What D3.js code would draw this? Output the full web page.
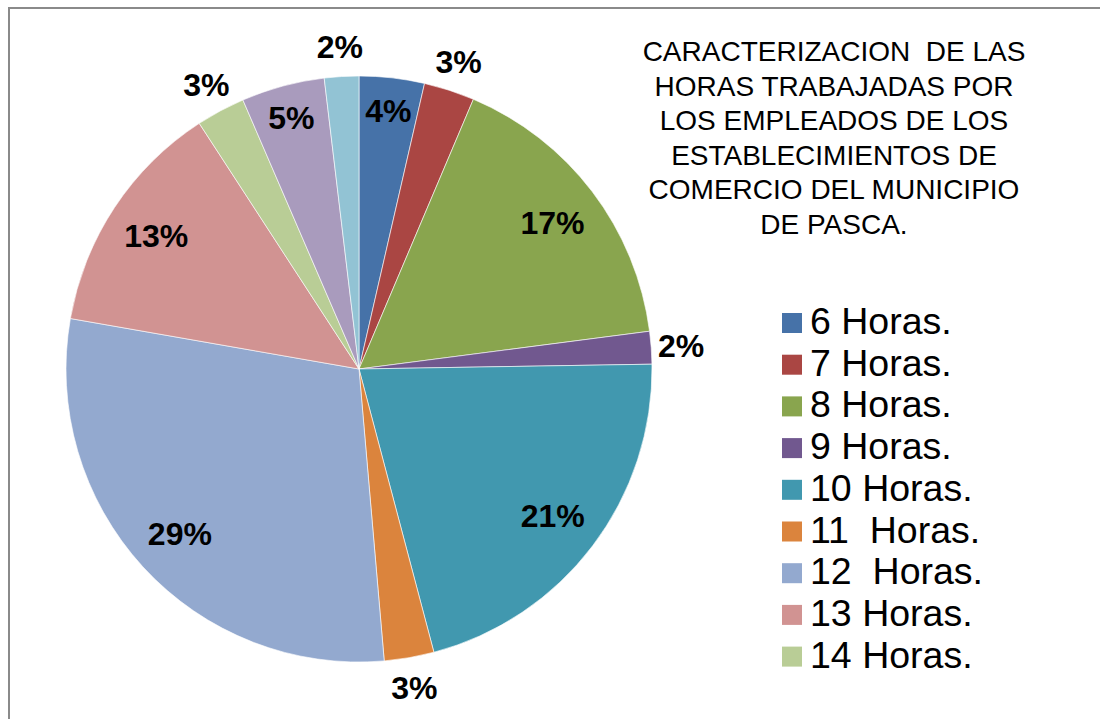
<!DOCTYPE html>
<html>
<head>
<meta charset="utf-8">
<script src="https://cdn.jsdelivr.net/npm/d3@7"></script>
<style>
  html, body { margin: 0; padding: 0; background: #fff; }
  svg { display: block; font-family: "Liberation Sans", Arial, sans-serif; }
</style>
</head>
<body>
<div id="my_dataviz"></div>
<script>
// ---- data (share of employees, clockwise from 12 o'clock)
var categories = ["6 Horas.", "7 Horas.", "8 Horas.", "9 Horas.", "10 Horas.", "11  Horas.",
                  "12  Horas.", "13 Horas.", "14 Horas.", "15 Horas.", "16 Horas."];
var values = [3.6, 2.8, 16.6, 1.8, 21.2, 2.75, 29.2, 13.1, 2.7, 4.6, 1.9];
var colors = ["#4672A8", "#AA4643", "#89A54E", "#71588F", "#4198AF", "#DB843D",
              "#93A9CF", "#D19392", "#B9CD96", "#A99BBD", "#92C3D4"];
var titleLines = ["CARACTERIZACION  DE LAS", "HORAS TRABAJADAS POR", "LOS EMPLEADOS DE LOS",
                  "ESTABLECIMIENTOS DE", "COMERCIO DEL MUNICIPIO", "DE PASCA."];
// legend in the original only has room for the first nine entries
var legendCount = 9;

var width = 1100, height = 719;
var cx = 359, cy = 369, radius = 293;

var svg = d3.select("div#my_dataviz")
    .append("svg")
      .attr("width", width)
      .attr("height", height);

// chart frame (only the top and left edges are inside the picture)
svg.append("rect")
    .attr("x", 9).attr("y", 8)
    .attr("width", width + 20).attr("height", height + 20)
    .attr("fill", "none")
    .attr("stroke", "#8a8a8a")
    .attr("stroke-width", 2);

var total = d3.sum(values);
var pie = d3.pie().sort(null).value(d => d);
var arcs = pie(values);

var arc = d3.arc().innerRadius(0).outerRadius(radius);

var g = svg.append("g")
    .attr("transform", "translate(" + cx + "," + cy + ")");

g.selectAll("path.slice")
    .data(arcs)
    .enter().append("path")
      .attr("class", "slice")
      .attr("d", arc)
      .attr("fill", (d, i) => colors[i])
      .attr("stroke", "#fff")
      .attr("stroke-width", 0.6);

// data labels: small slices go outside, others inside
function labelPos(d) {
  var pct = d.data / total * 100;
  var r = pct < 3.2 ? 323 : (pct < 5 ? 260 : 243);
  var a = (d.startAngle + d.endAngle) / 2;
  return [Math.sin(a) * r, -Math.cos(a) * r];
}

g.selectAll("text.lbl")
    .data(arcs)
    .enter().append("text")
      .attr("class", "lbl")
      .attr("x", d => labelPos(d)[0])
      .attr("y", d => labelPos(d)[1])
      .attr("dy", "0.36em")
      .attr("text-anchor", "middle")
      .attr("font-size", 32)
      .attr("font-weight", "bold")
      .attr("fill", "#000")
      .text(d => Math.round(d.data / total * 100) + "%");

// title
svg.append("g").selectAll("text")
    .data(titleLines)
    .enter().append("text")
      .attr("x", 834)
      .attr("y", (d, i) => 61 + i * 34.5)
      .attr("text-anchor", "middle")
      .attr("font-size", 28)
      .attr("fill", "#000")
      .style("white-space", "pre")
      .text(d => d);

// legend
var legend = svg.append("g")
    .attr("transform", "translate(782,313)");

var rows = legend.selectAll("g")
    .data(categories.slice(0, legendCount))
    .enter().append("g")
      .attr("transform", (d, i) => "translate(0," + (i * 41.7) + ")");

rows.append("rect")
    .attr("width", 20).attr("height", 20)
    .attr("fill", (d, i) => colors[i]);

rows.append("text")
    .attr("x", 28)
    .attr("y", 21)
    .attr("font-size", 37.5)
    .attr("fill", "#000")
    .style("white-space", "pre")
    .text(d => d);
</script>
</body>
</html>
